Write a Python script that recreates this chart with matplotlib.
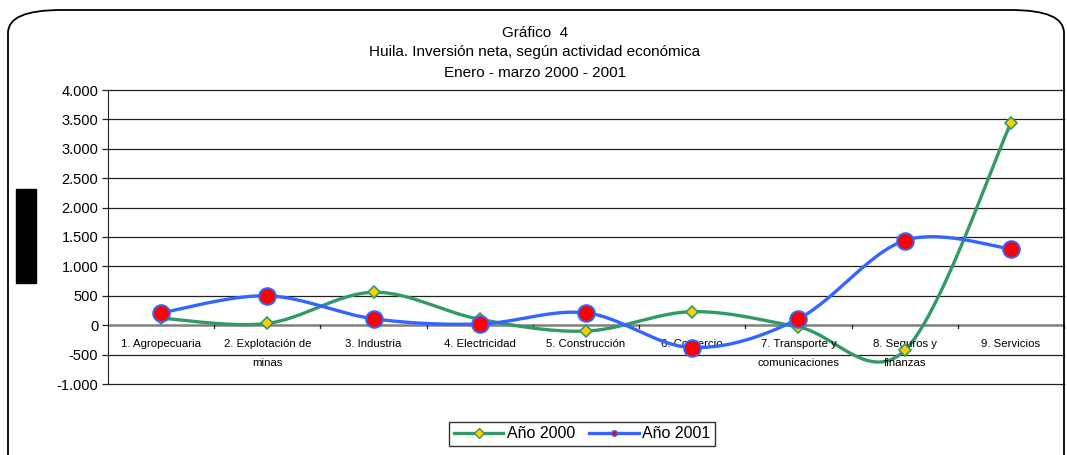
import numpy as np
import matplotlib
matplotlib.use("Agg")
import matplotlib.pyplot as plt
from matplotlib.patches import FancyBboxPatch, Rectangle
from matplotlib.lines import Line2D

plt.rcParams['font.family'] = ['Liberation Sans', 'DejaVu Sans']

# datos
categorias = ["1. Agropecuaria", "2. Explotación de\nminas", "3. Industria",
              "4. Electricidad", "5. Construcción", "6. Comercio",
              "7. Transporte y\ncomunicaciones", "8. Seguros y\nfinanzas", "9. Servicios"]
anio_2000 = [120, 30, 560, 100, -100, 230, -30, -430, 3440]
anio_2001 = [210, 500, 110, 20, 210, -380, 110, 1440, 1300]
y_ticks = [-1000, -500, 0, 500, 1000, 1500, 2000, 2500, 3000, 3500, 4000]
y_labels = ["-1.000", "-500", "0", "500", "1.000", "1.500", "2.000",
            "2.500", "3.000", "3.500", "4.000"]


def suavizar(x, y, n=30):
    # curva suavizada tipo Excel (Bezier con tangentes Catmull-Rom)
    x = np.asarray(x, float)
    y = np.asarray(y, float)
    px, py = [], []
    for i in range(len(x) - 1):
        i0, i3 = max(i - 1, 0), min(i + 2, len(x) - 1)
        c1x = x[i] + (x[i + 1] - x[i0]) / 6
        c1y = y[i] + (y[i + 1] - y[i0]) / 6
        c2x = x[i + 1] - (x[i3] - x[i]) / 6
        c2y = y[i + 1] - (y[i3] - y[i]) / 6
        t = np.linspace(0, 1, n)
        px.extend((1 - t) ** 3 * x[i] + 3 * (1 - t) ** 2 * t * c1x + 3 * (1 - t) * t ** 2 * c2x + t ** 3 * x[i + 1])
        py.extend((1 - t) ** 3 * y[i] + 3 * (1 - t) ** 2 * t * c1y + 3 * (1 - t) * t ** 2 * c2y + t ** 3 * y[i + 1])
    return px, py


fig = plt.figure(figsize=(10.67, 4.55), dpi=100)
ax = fig.add_axes([108 / 1067, 1 - 384 / 455, 956 / 1067, 294 / 455])

verde = "#339966"
azul = "#3366FF"
x = np.arange(len(categorias))

sx, sy = suavizar(x, anio_2000)
ax.plot(sx, sy, color=verde, lw=2.4, zorder=3, solid_capstyle='round')
ax.plot(x, anio_2000, ls='none', marker='D', ms=6.5, mfc='#FFCC00', mec=verde, mew=1.2, zorder=4)

sx, sy = suavizar(x, anio_2001)
ax.plot(sx, sy, color=azul, lw=2.4, zorder=5, solid_capstyle='round')
ax.plot(x, anio_2001, ls='none', marker='o', ms=12, mfc='#FF0000', mec=azul, mew=1.4, zorder=6)

ax.set_xlim(-0.5, len(categorias) - 0.5)
ax.set_ylim(-1000, 4000)
ax.set_yticks(y_ticks)
ax.set_yticklabels(y_labels, fontsize=10.5)
ax.set_xticks([])
for yv in y_ticks:
    if yv != 0:
        ax.axhline(yv, color="#222222", lw=0.9, zorder=1, clip_on=False)
ax.axhline(0, color="#808080", lw=1.8, zorder=2)
for b in np.arange(0.5, len(categorias), 1.0):
    ax.plot([b, b], [0, -55], color="#222222", lw=0.9, zorder=2, clip_on=False)
for s in ['top', 'right', 'bottom']:
    ax.spines[s].set_visible(False)
ax.spines['left'].set_color("#222222")
ax.tick_params(axis='y', length=4, width=0.9, color="#222222", pad=3)

for i, c in enumerate(categorias):
    ax.annotate(c, (i, 0), xytext=(0, -10), textcoords='offset points',
                ha='center', va='top', fontsize=8.2, linespacing=2.1, zorder=3)

fig.text(535 / 1067, 1 - 33 / 455, "Gráfico  4", ha='center', va='center', fontsize=11)
fig.text(535 / 1067, 1 - 52 / 455, "Huila. Inversión neta, según actividad económica",
         ha='center', va='center', fontsize=11)
fig.text(535 / 1067, 1 - 73 / 455, "Enero - marzo 2000 - 2001", ha='center', va='center', fontsize=11)

h1 = Line2D([], [], color=verde, lw=2.4, marker='D', ms=5, mfc='#FFCC00', mec=verde)
h2 = Line2D([], [], color=azul, lw=2.4, marker='o', ms=4, mfc='#FF0000', mec=azul)
leg = fig.legend([h1, h2], ["Año 2000", "Año 2001"], loc='center',
                 bbox_to_anchor=(582 / 1067, 1 - 434 / 455), ncol=2, fontsize=11.5,
                 frameon=True, fancybox=False, edgecolor='black', handlelength=3.1,
                 handletextpad=0.2, columnspacing=0.9, borderpad=0.3)
leg.get_frame().set_linewidth(1.0)

# marco redondeado y recuadro negro de la izquierda
fig.patches.append(FancyBboxPatch((8 / 1067, -0.2), 1056 / 1067, 1.2 - 10 / 455,
                                  boxstyle="round,pad=0,rounding_size=0.05",
                                  transform=fig.transFigure, fill=False,
                                  edgecolor='black', lw=1.3))
fig.patches.append(Rectangle((16 / 1067, 1 - 283 / 455), 20 / 1067, 94 / 455,
                             transform=fig.transFigure, color='black'))

fig.savefig("out.png", dpi=100)
